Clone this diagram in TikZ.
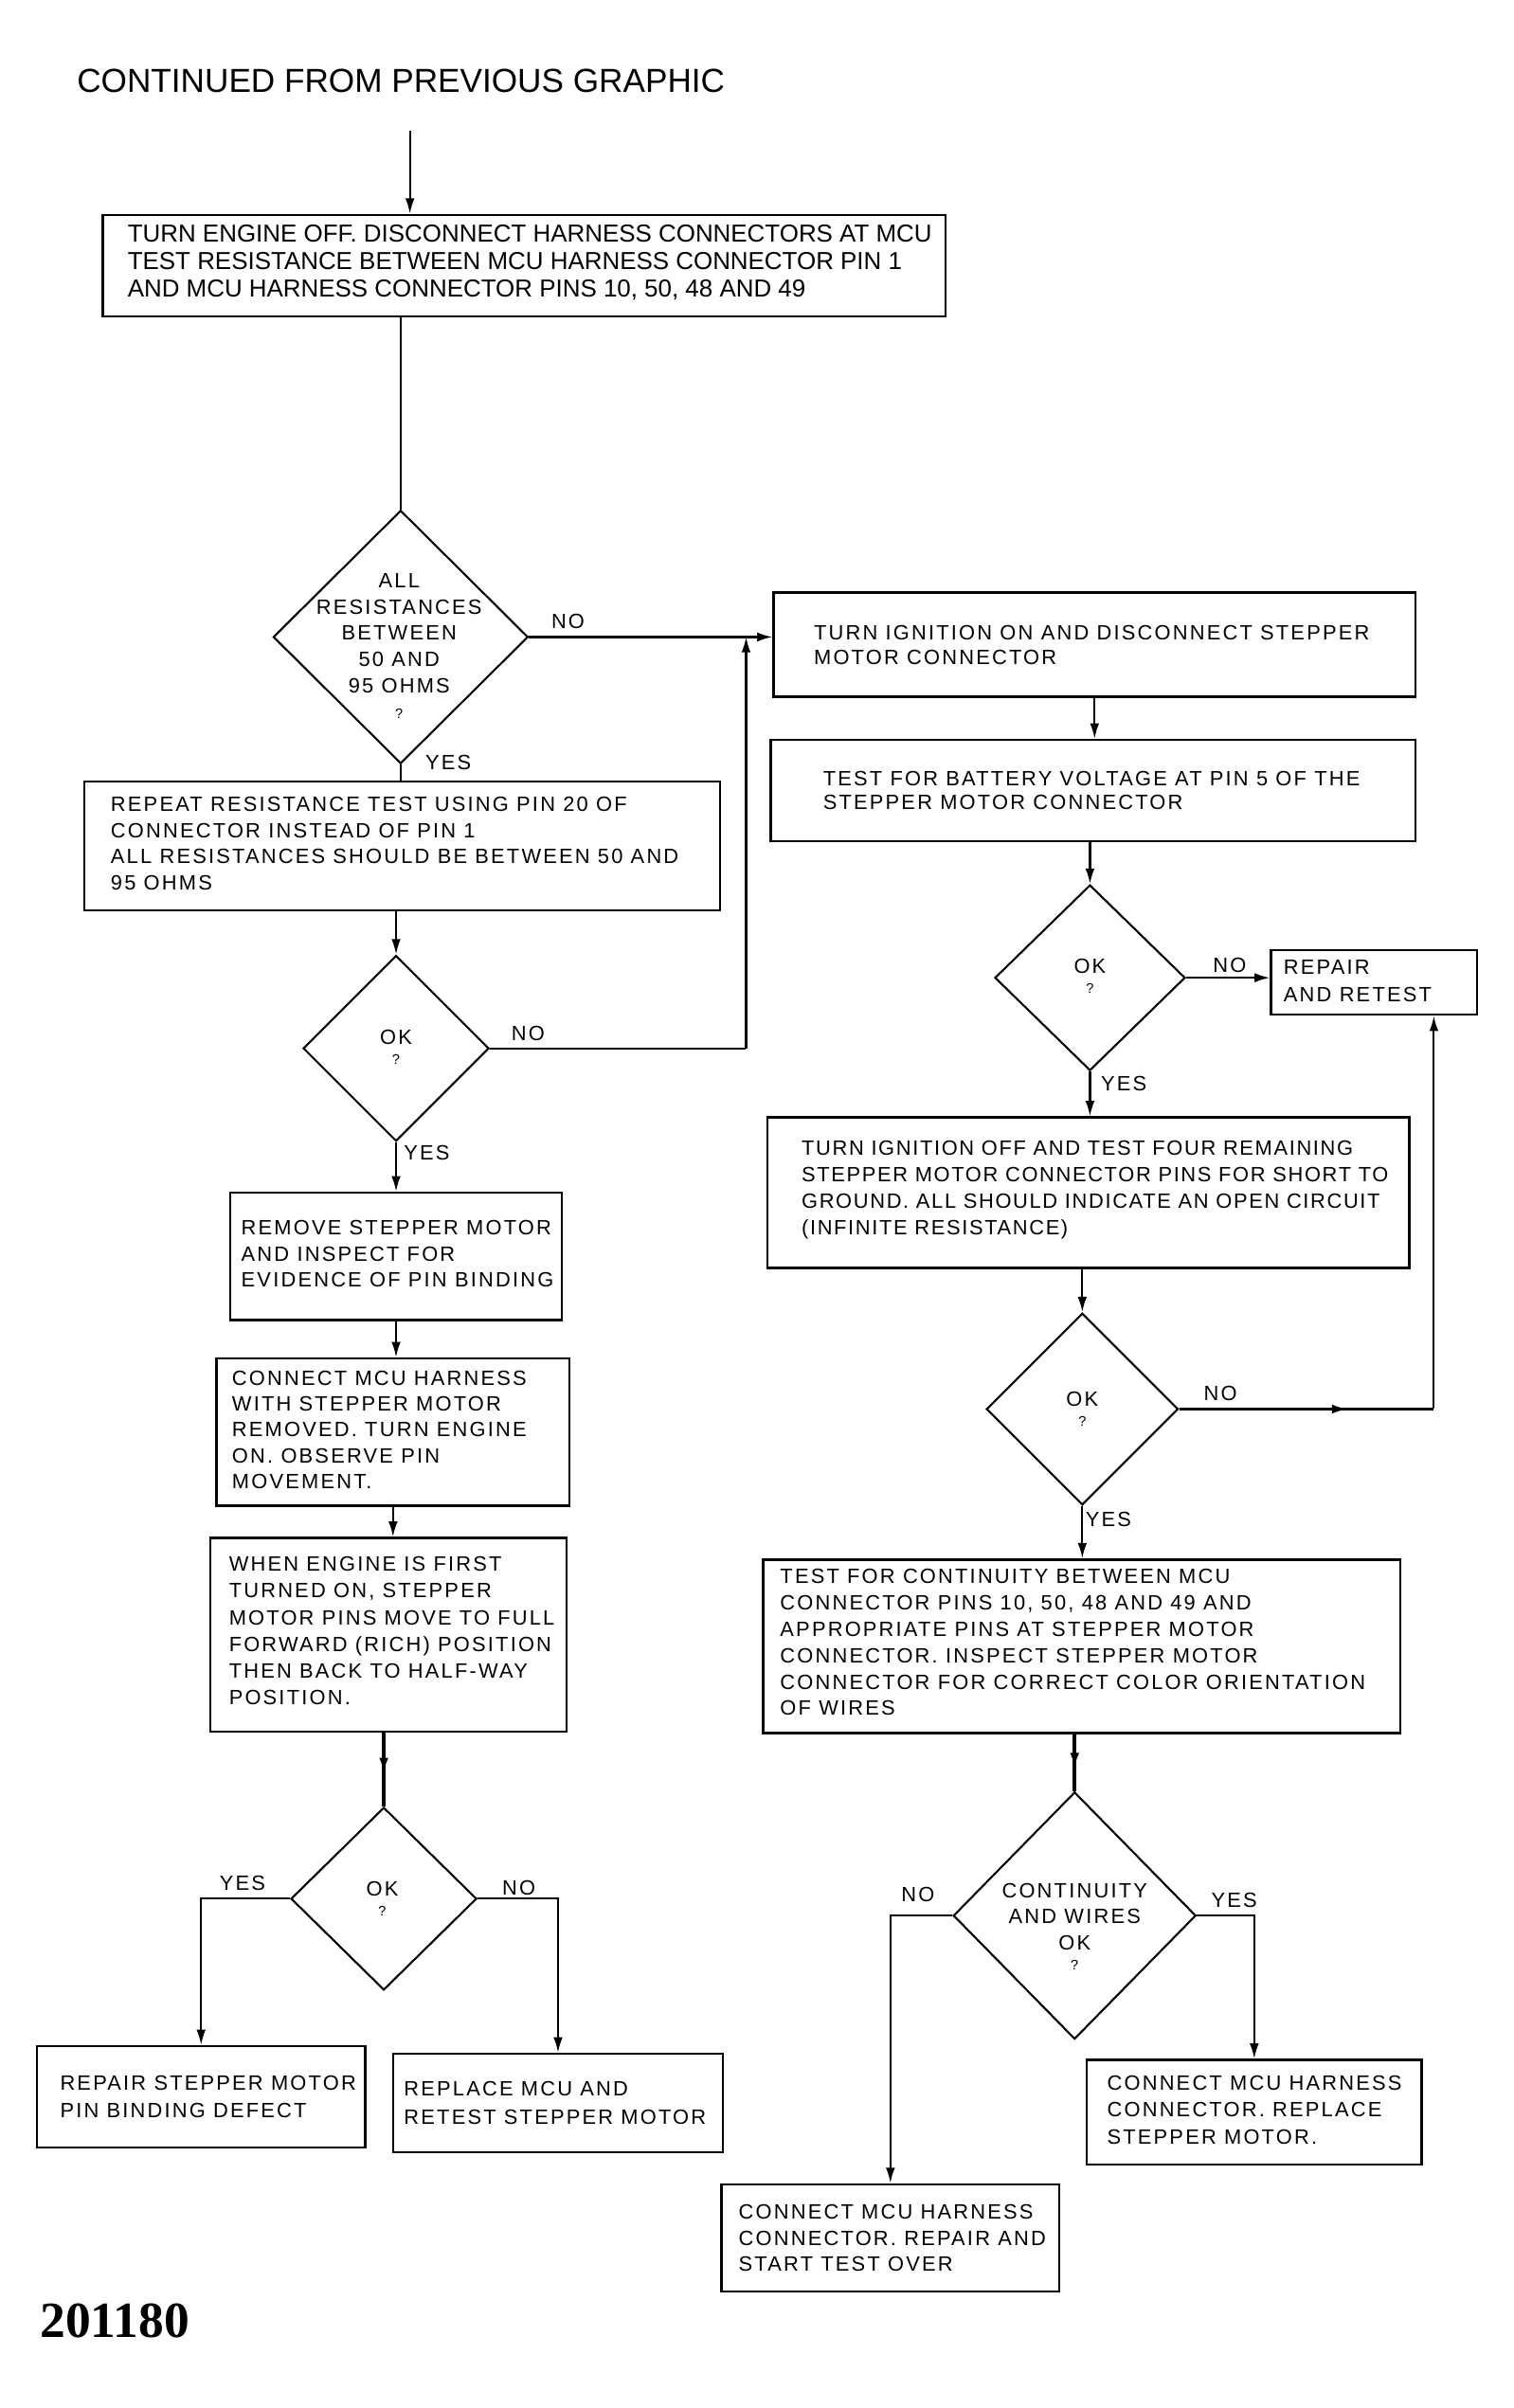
\documentclass[tikz,border=0pt]{standalone}
\usepackage{fontspec}
\setmainfont{Liberation Sans}
\newfontfamily\bodyfont[LetterSpace=10]{Liberation Sans}
\newfontfamily\tightfont[LetterSpace=7.5]{Liberation Sans}
\newfontfamily\numfont{Liberation Serif}
\usetikzlibrary{shapes.geometric,arrows.meta,decorations.markings}
\begin{document}
\begin{tikzpicture}[x=1pt,y=-1pt,
  box/.style={draw, rectangle, line width=1.5pt, inner sep=0pt},
  dia/.style={draw, diamond, line width=1.3pt, inner sep=0pt},
  txt/.style={font=\bodyfont\fontsize{13.5}{17}\selectfont, align=left, inner sep=0pt},
  dtxt/.style={font=\bodyfont\fontsize{13.5}{17}\selectfont, align=center, inner sep=0pt},
  lbl/.style={font=\bodyfont\fontsize{13.5}{17}\selectfont, inner sep=0pt},
  con/.style={line width=1.3pt},
  tip/.style={-{Latex[length=10pt,width=6pt]}},
  arr/.style={con, tip},
  thick con/.style={line width=2.6pt},
  midarr/.style={postaction={decorate}, decoration={markings, mark=at position #1 with {\arrow{Latex[length=10pt,width=6pt]}}}}
]
\fill[white] (0,0) rectangle (986.2,1568.8);
\useasboundingbox (0,0) rectangle (986.2,1568.8);

% title
\node[anchor=west, inner sep=0pt, font=\fontsize{21.7}{24}\selectfont] (title) at (50,53) {CONTINUED FROM PREVIOUS GRAPHIC};
\node[anchor=west, inner sep=0pt, font=\numfont\bfseries\fontsize{33}{36}\selectfont] (num) at (26,1512) {201180};

% left column boxes
\node[box, minimum width=549pt, minimum height=66pt] (b1) at (341.5,173) {};
\node[anchor=west, align=left, inner sep=0pt, font=\fontsize{16}{18}\selectfont] (b1t) at (83,171) {TURN ENGINE OFF. DISCONNECT HARNESS CONNECTORS AT MCU\\TEST RESISTANCE BETWEEN MCU HARNESS CONNECTOR PIN 1\\AND MCU HARNESS CONNECTOR PINS 10, 50, 48 AND 49};

\node[dia, minimum width=166pt, minimum height=165pt] (d1) at (261,415) {};
\node[dtxt] (d1t) at (260,421) {ALL\\RESISTANCES\\BETWEEN\\50 AND\\95 OHMS\\{\fontsize{9}{10}\selectfont ?}};

\node[box, minimum width=414pt, minimum height=84pt] (b2) at (262,551) {};
\node[txt, anchor=west] (b2t) at (72,549.5) {REPEAT RESISTANCE TEST USING PIN 20 OF\\CONNECTOR INSTEAD OF PIN 1\\ALL RESISTANCES SHOULD BE BETWEEN 50 AND\\95 OHMS};

\node[dia, minimum width=121pt, minimum height=121pt] (d2) at (258,683) {};
\node[dtxt] (d2t) at (258,682) {OK\\[-4pt]{\fontsize{9}{10}\selectfont ?}};

\node[box, minimum width=216pt, minimum height=83pt] (b3) at (258,818.5) {};
\node[txt, anchor=west] (b3t) at (157,817) {REMOVE STEPPER MOTOR\\AND INSPECT FOR\\EVIDENCE OF PIN BINDING};

\node[box, minimum width=230pt, minimum height=96pt] (b4) at (256,933) {};
\node[txt, anchor=west, font=\bodyfont\fontsize{13.5}{16.8}\selectfont] (b4t) at (151,931.5) {CONNECT MCU HARNESS\\WITH STEPPER MOTOR\\REMOVED. TURN ENGINE\\ON. OBSERVE PIN\\MOVEMENT.};

\node[box, minimum width=232pt, minimum height=126pt] (b5) at (253,1065) {};
\node[txt, anchor=west, font=\bodyfont\fontsize{13.5}{17.4}\selectfont] (b5t) at (149,1062.5) {WHEN ENGINE IS FIRST\\TURNED ON, STEPPER\\MOTOR PINS MOVE TO FULL\\FORWARD (RICH) POSITION\\THEN BACK TO HALF-WAY\\POSITION.};

\node[dia, minimum width=121pt, minimum height=119pt] (d3) at (250,1237) {};
\node[dtxt] (d3t) at (249,1237) {OK\\[-4pt]{\fontsize{9}{10}\selectfont ?}};

\node[box, minimum width=214pt, minimum height=66pt] (b6) at (131,1366) {};
\node[txt, anchor=west, font=\bodyfont\fontsize{13.5}{18}\selectfont] (b6t) at (39,1366) {REPAIR STEPPER MOTOR\\PIN BINDING DEFECT};

\node[box, minimum width=215pt, minimum height=64pt] (b7) at (363.5,1370) {};
\node[txt, anchor=west, font=\bodyfont\fontsize{13.5}{18}\selectfont] (b7t) at (263,1370) {REPLACE MCU AND\\RETEST STEPPER MOTOR};

% right column
\node[box, minimum width=418pt, minimum height=68pt] (b8) at (713,420) {};
\node[txt, anchor=west, font=\bodyfont\fontsize{13.5}{16}\selectfont] (b8t) at (530,420.5) {TURN IGNITION ON AND DISCONNECT STEPPER\\MOTOR CONNECTOR};

\node[box, minimum width=420pt, minimum height=66pt] (b9) at (712,515) {};
\node[txt, anchor=west, font=\bodyfont\fontsize{13.5}{16}\selectfont] (b9t) at (536,515) {TEST FOR BATTERY VOLTAGE AT PIN 5 OF THE\\STEPPER MOTOR CONNECTOR};

\node[dia, minimum width=124pt, minimum height=121pt] (d4) at (710,637) {};
\node[dtxt] (d4t) at (710,636) {OK\\[-4pt]{\fontsize{9}{10}\selectfont ?}};

\node[box, minimum width=134pt, minimum height=42pt] (b10) at (895,640) {};
\node[txt, anchor=west, font=\bodyfont\fontsize{13.5}{18}\selectfont] (b10t) at (836,639) {REPAIR\\AND RETEST};

\node[box, minimum width=418pt, minimum height=98pt] (b11) at (709,777) {};
\node[txt, anchor=west, font=\tightfont\fontsize{13.5}{17.3}\selectfont] (b11t) at (522,775) {TURN IGNITION OFF AND TEST FOUR REMAINING\\STEPPER MOTOR CONNECTOR PINS FOR SHORT TO\\GROUND. ALL SHOULD INDICATE AN OPEN CIRCUIT\\(INFINITE RESISTANCE)};

\node[dia, minimum width=125pt, minimum height=125pt] (d5) at (705,918) {};
\node[dtxt] (d5t) at (705,918) {OK\\[-4pt]{\fontsize{9}{10}\selectfont ?}};

\node[box, minimum width=415pt, minimum height=113pt] (b12) at (704.5,1072.5) {};
\node[txt, anchor=west, font=\bodyfont\fontsize{13.5}{17.2}\selectfont] (b12t) at (508,1070) {TEST FOR CONTINUITY BETWEEN MCU\\CONNECTOR PINS 10, 50, 48 AND 49 AND\\APPROPRIATE PINS AT STEPPER MOTOR\\CONNECTOR. INSPECT STEPPER MOTOR\\CONNECTOR FOR CORRECT COLOR ORIENTATION\\OF WIRES};

\node[dia, minimum width=158pt, minimum height=161pt] (d6) at (700,1248) {};
\node[dtxt] (d6t) at (700,1255) {CONTINUITY\\AND WIRES\\OK\\[-4pt]{\fontsize{9}{10}\selectfont ?}};

\node[box, minimum width=220pt, minimum height=70pt] (b13) at (580,1458) {};
\node[txt, anchor=west] (b13t) at (481,1458) {CONNECT MCU HARNESS\\CONNECTOR. REPAIR AND\\START TEST OVER};

\node[box, minimum width=218pt, minimum height=68pt] (b14) at (817,1376) {};
\node[txt, anchor=west, font=\bodyfont\fontsize{13.5}{17.5}\selectfont] (b14t) at (721,1374.5) {CONNECT MCU HARNESS\\CONNECTOR. REPLACE\\STEPPER MOTOR.};

% helper coordinates
\coordinate (in) at (267,85);
\coordinate (loopL) at (486,0);
\coordinate (loopR) at (934,0);

% connectors left
\draw[arr] (in) -- (in |- b1.north);
\draw[con] (d1.north |- b1.south) -- (d1.north);
\draw[arr] (d1.east) -- (d1.east -| b8.west);
\draw[con] (d1.south) -- (d1.south |- b2.north);
\draw[arr] (d2.north |- b2.south) -- (d2.north);
\draw[con] (d2.east) -- (d2.east -| loopL);
\draw[arr] (d2.east -| loopL) -- (d1.east -| loopL);
\draw[arr] (d2.south) -- (d2.south |- b3.north);
\draw[arr] (b3.south) -- (b3.south |- b4.north);
\draw[arr] (b4.south) -- (b4.south |- b5.north);
\draw[thick con, midarr=0.55] (d3.north |- b5.south) -- (d3.north);
\draw[arr] (d3.west) -- (d3.west -| b6.north) -- (b6.north);
\draw[arr] (d3.east) -- (d3.east -| b7.north) -- (b7.north);

% connectors right
\draw[arr] (b8.south) -- (b8.south |- b9.north);
\draw[arr] (d4.north |- b9.south) -- (d4.north);
\draw[arr] (d4.east) -- (d4.east -| b10.west);
\draw[arr] (d4.south) -- (d4.south |- b11.north);
\draw[arr] (d5.north |- b11.south) -- (d5.north);
\draw[con, midarr=0.66] (d5.east) -- (d5.east -| loopR);
\draw[arr] (d5.east -| loopR) -- (loopR |- b10.south);
\draw[arr] (d5.south) -- (d5.south |- b12.north);
\draw[thick con, midarr=0.6] (d6.north |- b12.south) -- (d6.north);
\draw[arr] (d6.west) -- (d6.west -| b13.north) -- (b13.north);
\draw[arr] (d6.east) -- (d6.east -| b14.north) -- (b14.north);

% labels
\node[lbl] (l1) at (370,405) {NO};
\node[lbl] (l2) at (292,497) {YES};
\node[lbl] (l3) at (344,673) {NO};
\node[lbl] (l4) at (278,751) {YES};
\node[lbl] (l5) at (158,1227) {YES};
\node[lbl] (l6) at (338,1230) {NO};
\node[lbl] (l7) at (801,629) {NO};
\node[lbl] (l8) at (732,706) {YES};
\node[lbl] (l9) at (795,908) {NO};
\node[lbl] (l10) at (722,990) {YES};
\node[lbl] (l11) at (598,1234) {NO};
\node[lbl] (l12) at (804,1238) {YES};
\end{tikzpicture}
\end{document}
